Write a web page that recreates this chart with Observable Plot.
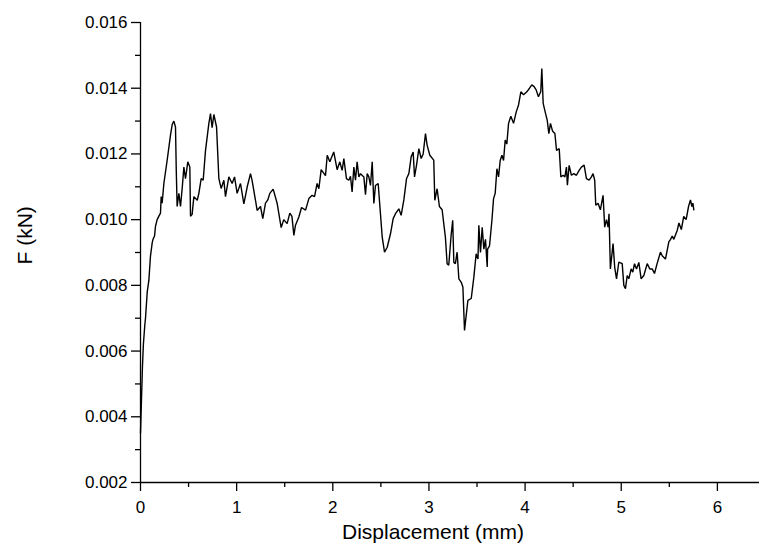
<!DOCTYPE html>
<html>
<head>
<meta charset="utf-8">
<script src="https://cdn.jsdelivr.net/npm/d3@7"></script>
<script src="https://cdn.jsdelivr.net/npm/@observablehq/plot@0.6"></script>
<style>
  html, body { margin: 0; padding: 0; background: #fff; }
  #chart { width: 759px; height: 550px; }
</style>
</head>
<body>
<div id="chart"></div>
<script>
// Displacement (mm)
const displacement = [
  0, 0.01, 0.02, 0.03, 0.045, 0.052, 0.07, 0.087, 0.104, 0.122, 0.13, 0.146, 0.156, 0.173, 0.19, 0.208, 0.215, 0.225, 0.243, 0.277,
  0.312, 0.33, 0.347, 0.364, 0.372, 0.381, 0.399, 0.416, 0.435, 0.451, 0.468, 0.492, 0.513, 0.52, 0.537, 0.555, 0.59, 0.607, 0.631, 0.652,
  0.676, 0.711, 0.728, 0.745, 0.763, 0.791, 0.815, 0.839, 0.867, 0.884, 0.919, 0.953, 0.978, 1.005, 1.04, 1.075, 1.11, 1.144, 1.16, 1.196,
  1.213, 1.248, 1.272, 1.3, 1.324, 1.345, 1.38, 1.421, 1.463, 1.49, 1.525, 1.553, 1.575, 1.595, 1.612, 1.647, 1.675, 1.717, 1.751, 1.785,
  1.81, 1.837, 1.855, 1.879, 1.924, 1.942, 1.969, 2.01, 2.045, 2.073, 2.097, 2.115, 2.142, 2.167, 2.184, 2.201, 2.219, 2.236, 2.253, 2.271,
  2.288, 2.323, 2.34, 2.358, 2.375, 2.392, 2.41, 2.427, 2.444, 2.472, 2.49, 2.514, 2.538, 2.566, 2.6, 2.628, 2.652, 2.687, 2.711, 2.739,
  2.767, 2.791, 2.815, 2.836, 2.85, 2.871, 2.895, 2.919, 2.94, 2.964, 2.981, 3.009, 3.05, 3.061, 3.085, 3.109, 3.137, 3.171, 3.189, 3.206,
  3.23, 3.247, 3.259, 3.275, 3.293, 3.311, 3.335, 3.353, 3.37, 3.405, 3.44, 3.467, 3.491, 3.51, 3.519, 3.536, 3.554, 3.571, 3.588, 3.606,
  3.61, 3.63, 3.655, 3.672, 3.689, 3.707, 3.724, 3.741, 3.759, 3.776, 3.793, 3.81, 3.828, 3.852, 3.88, 3.908, 3.932, 3.956, 3.984, 4.018,
  4.046, 4.07, 4.094, 4.115, 4.139, 4.163, 4.174, 4.188, 4.212, 4.23, 4.247, 4.264, 4.285, 4.31, 4.327, 4.355, 4.372, 4.396, 4.414, 4.43,
  4.44, 4.458, 4.482, 4.507, 4.534, 4.562, 4.586, 4.614, 4.638, 4.666, 4.69, 4.707, 4.724, 4.735, 4.759, 4.783, 4.811, 4.828, 4.846, 4.863,
  4.873, 4.887, 4.915, 4.932, 4.951, 4.975, 5.01, 5.027, 5.044, 5.062, 5.079, 5.103, 5.12, 5.138, 5.159, 5.183, 5.207, 5.235, 5.27, 5.297,
  5.322, 5.346, 5.373, 5.408, 5.426, 5.46, 5.495, 5.513, 5.53, 5.547, 5.582, 5.6, 5.625, 5.65, 5.675, 5.7, 5.72, 5.735, 5.745, 5.755
];
// F (kN)
const force = [
  0.0035, 0.0045, 0.0055, 0.0062, 0.0068, 0.0070, 0.0078, 0.00815, 0.0089, 0.0093, 0.0094, 0.0095, 0.0098, 0.0100, 0.0101, 0.0102, 0.0107, 0.0105, 0.0111, 0.0118,
  0.01257, 0.0129, 0.0130, 0.01282, 0.0115, 0.0104, 0.0108, 0.0104, 0.0110, 0.0116, 0.01125, 0.01176, 0.0116, 0.0101, 0.01016, 0.0107, 0.01059, 0.0108, 0.01125, 0.0112,
  0.0121, 0.01293, 0.01323, 0.0128, 0.0132, 0.01282, 0.01125, 0.01095, 0.0112, 0.0107, 0.0113, 0.0111, 0.0113, 0.0108, 0.0111, 0.01048, 0.0110, 0.0114, 0.0112, 0.01059,
  0.01028, 0.0104, 0.01003, 0.0105, 0.0106, 0.0108, 0.01093, 0.0105, 0.00976, 0.0100, 0.00988, 0.0102, 0.0101, 0.00952, 0.00983, 0.01008, 0.01037, 0.01029, 0.01064, 0.01074,
  0.0107, 0.0111, 0.01094, 0.01152, 0.01134, 0.01196, 0.01176, 0.01206, 0.01152, 0.01176, 0.0115, 0.01186, 0.01125, 0.0112, 0.01132, 0.01084, 0.0116, 0.0112, 0.01176, 0.0113,
  0.0114, 0.0113, 0.01076, 0.0114, 0.0113, 0.01104, 0.01176, 0.01049, 0.01104, 0.0111, 0.0104, 0.00947, 0.00901, 0.00916, 0.00957, 0.01003, 0.01018, 0.01033, 0.01013, 0.0106,
  0.01125, 0.0114, 0.01191, 0.01206, 0.0113, 0.01166, 0.01216, 0.01186, 0.0120, 0.01262, 0.01227, 0.01196, 0.01181, 0.01059, 0.01094, 0.0104, 0.0103, 0.00947, 0.00866, 0.00861,
  0.0095, 0.00998, 0.0087, 0.00866, 0.00901, 0.0082, 0.0081, 0.00795, 0.00663, 0.00754, 0.0076, 0.00825, 0.00896, 0.0088, 0.00983, 0.0090, 0.00977, 0.0091, 0.0094, 0.00856,
  0.0091, 0.0092, 0.00998, 0.01064, 0.0108, 0.01155, 0.0113, 0.0118, 0.01196, 0.0118, 0.01242, 0.0123, 0.01293, 0.01315, 0.01293, 0.01328, 0.01349, 0.01389, 0.0138, 0.01389,
  0.0140, 0.0141, 0.01405, 0.01395, 0.01374, 0.0139, 0.0146, 0.01354, 0.01324, 0.01303, 0.01262, 0.01293, 0.0127, 0.01262, 0.01211, 0.01216, 0.0113, 0.01135, 0.0113, 0.0116,
  0.01105, 0.01165, 0.01135, 0.0114, 0.01135, 0.0115, 0.0116, 0.01166, 0.01125, 0.0112, 0.0113, 0.0114, 0.0112, 0.01044, 0.0105, 0.0103, 0.01074, 0.00977, 0.0100, 0.00977,
  0.01018, 0.0085, 0.00927, 0.00855, 0.0082, 0.00871, 0.00866, 0.0080, 0.0079, 0.0083, 0.0082, 0.0085, 0.0084, 0.00866, 0.0085, 0.0087, 0.0082, 0.0083, 0.00866, 0.0085,
  0.0085, 0.00836, 0.00866, 0.00901, 0.0089, 0.0088, 0.00932, 0.0094, 0.0095, 0.0094, 0.00967, 0.0099, 0.0097, 0.0101, 0.0100, 0.0104, 0.0106, 0.0104, 0.0105, 0.0103
];
const xMajorTicks = [0, 1, 2, 3, 4, 5, 6];
const xMinorTicks = [0.5, 1.5, 2.5, 3.5, 4.5, 5.5];
const yMajorTicks = [0.002, 0.004, 0.006, 0.008, 0.010, 0.012, 0.014, 0.016];
const yMinorTicks = [0.003, 0.005, 0.007, 0.009, 0.011, 0.013, 0.015];
const xTitle = ["Displacement (mm)"];
const yTitle = ["F (kN)"];

const data = displacement.map((d, i) => ({x: d, y: force[i]}));

const chart = Plot.plot({
  width: 759,
  height: 550,
  marginLeft: 140,
  marginRight: 0,
  marginTop: 22,
  marginBottom: 68,
  style: {fontFamily: "'Liberation Sans', Arial, sans-serif", background: "white", color: "black"},
  x: {domain: [0, 6.438], label: null},
  y: {domain: [0.002, 0.016], label: null},
  marks: [
    Plot.ruleY([0.002], {stroke: "black", strokeWidth: 1.3}),
    Plot.ruleX([0], {y1: 0.002, y2: 0.016, stroke: "black", strokeWidth: 1.3}),
    Plot.axisX(xMajorTicks, {tickSize: 9, tickPadding: 9, fontSize: 17, stroke: "black", strokeWidth: 1.3, label: null, tickFormat: d => String(d)}),
    Plot.axisX(xMinorTicks, {tickSize: 5, stroke: "black", strokeWidth: 1.3, text: null, label: null}),
    Plot.axisY(yMajorTicks, {tickSize: 9, tickPadding: 4, fontSize: 17, stroke: "black", strokeWidth: 1.3, label: null, tickFormat: d3.format(".3f")}),
    Plot.axisY(yMinorTicks, {tickSize: 5, stroke: "black", strokeWidth: 1.3, text: null, label: null}),
    Plot.line(data, {x: "x", y: "y", stroke: "black", strokeWidth: 1.4, strokeLinejoin: "miter"}),
    Plot.text(xTitle, {frameAnchor: "bottom", dx: -17, dy: 56, fontSize: 21, fill: "black"}),
    Plot.text(yTitle, {frameAnchor: "left", rotate: -90, dx: -115, dy: 12, fontSize: 21, fill: "black"})
  ]
});
document.getElementById("chart").appendChild(chart);
</script>
</body>
</html>
